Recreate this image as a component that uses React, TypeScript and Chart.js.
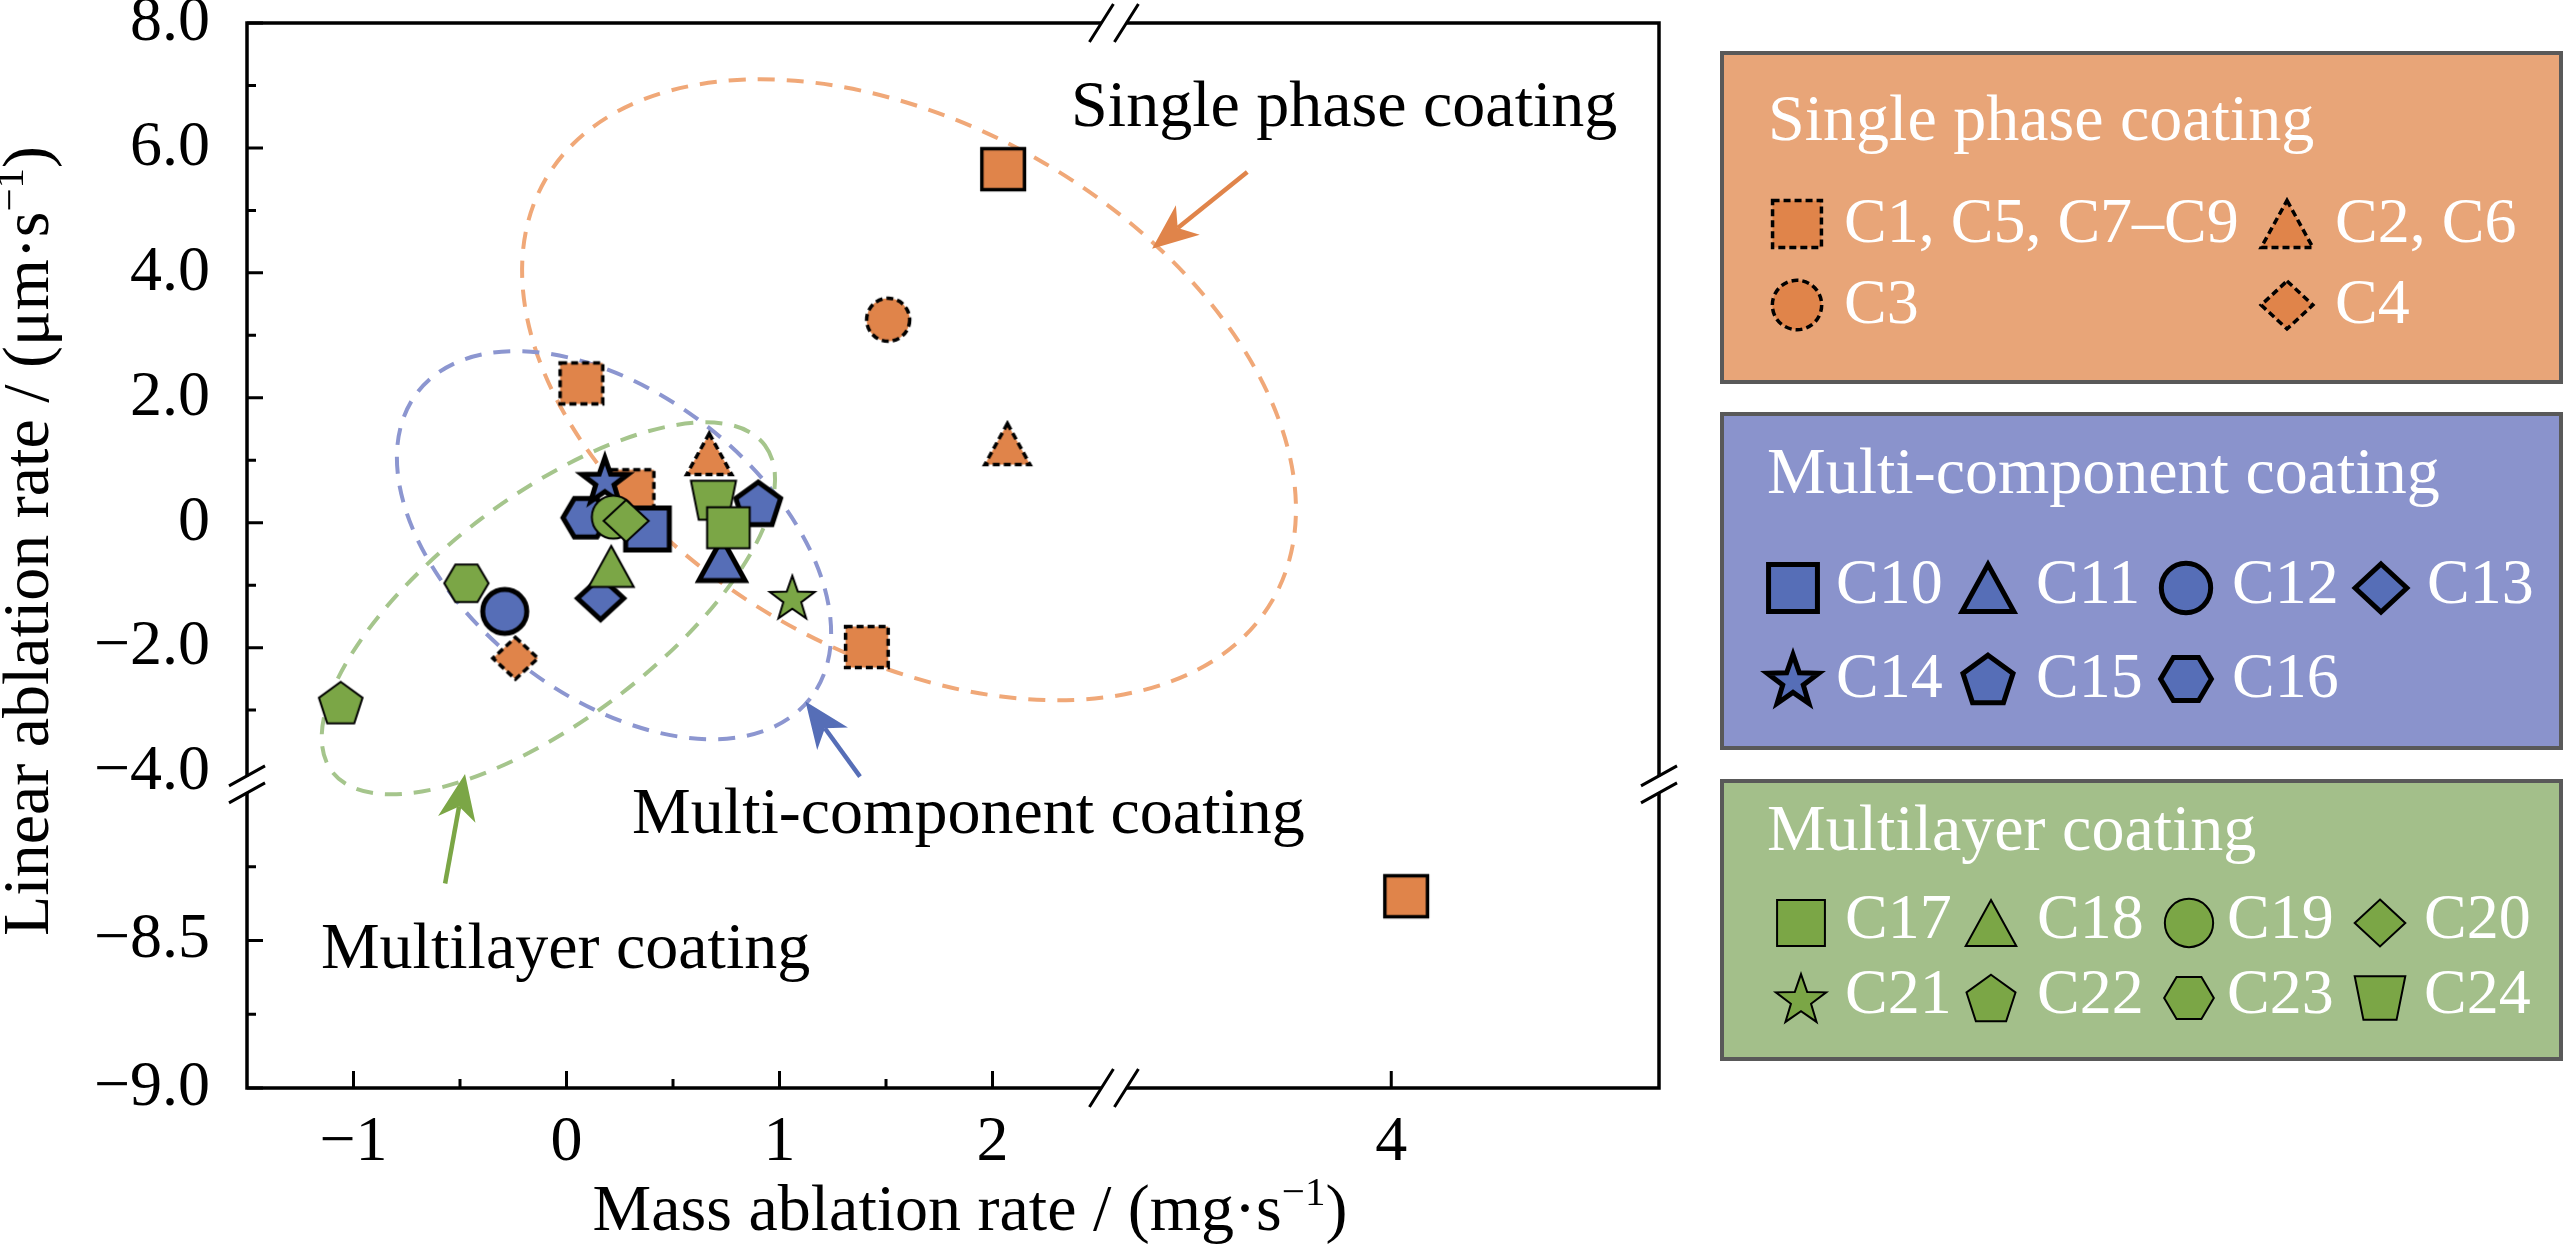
import React, { useEffect, useRef } from "react";
import { Chart, registerables } from "chart.js";

Chart.register(...registerables);

// ---------------- DATA ----------------
const xTickValues = [-1, 0, 1, 2, 4];
const xTickLabels = ["−1", "0", "1", "2", "4"];
const xMinorTickValues = [-0.5, 0.5, 1.5];
const yTickValues = [8, 6, 4, 2, 0, -2, -4, -8.5, -9];
const yTickLabels = ["8.0", "6.0", "4.0", "2.0", "0", "−2.0", "−4.0", "−8.5", "−9.0"];
const yMinorTickValues = [7, 5, 3, 1, -1, -3, -8.25, -8.75];

const singlePhaseNames = ["C1, C5, C7–C9", "C2, C6", "C3", "C4"];
const singleSquareX = [0.07, 0.31, 1.41, 2.05, 4.07];
const singleSquareY = [2.23, 0.52, -1.99, 5.66, -8.35];
const singleTriangleX = [0.67, 2.07];
const singleTriangleY = [1.1, 1.26];
const singleCircleX = [1.51];
const singleCircleY = [3.25];
const singleDiamondX = [-0.24];
const singleDiamondY = [-2.17];

const multiComponentNames = ["C10", "C11", "C12", "C13", "C14", "C15", "C16"];
const multiComponentX = [0.38, 0.73, -0.29, 0.16, 0.18, 0.9, 0.09];
const multiComponentY = [-0.1, -0.59, -1.42, -1.21, 0.69, 0.31, 0.08];

const multilayerNames = ["C17", "C18", "C19", "C20", "C21", "C22", "C23", "C24"];
const multilayerX = [0.76, 0.21, 0.22, 0.28, 1.06, -1.06, -0.47, 0.69];
const multilayerY = [-0.08, -0.7, 0.09, 0.03, -1.19, -2.88, -0.97, 0.36];

const xAxisTitle: [string, boolean][] = [["Mass ablation rate / (mg·s", false], ["−1", true], [")", false]];
const yAxisTitle: [string, boolean][] = [["Linear ablation rate / (μm·s", false], ["−1", true], [")", false]];

// ---------------- AXIS BREAK MAPPING ----------------
const xToAxis = (x: number) => (x > 2.6 ? x - 0.128 : x);
const yToAxis = (y: number) => (y < -6 ? -6.688 + (y + 8.5) * 4.72 : y);
const X_MIN = -1.5, X_MAX = 5.129, Y_MIN = -9.05, Y_MAX = 8;
const X_BREAK_AXIS = 2.57;
const Y_BREAK_AXIS = -4.19;
const Y_NO_TICK = -4;

// ---------------- STYLE ----------------
const FONT = '"Liberation Serif", "Times New Roman", Times, serif';
const ORANGE = "#E0844A", BLUE = "#566EB7", GREEN = "#7BA646";

type Shape = "square" | "circle" | "triangle" | "diamond" | "star" | "pentagon" | "hexagon" | "trapezoid";
const singleShapes: Shape[] = ["square", "triangle", "circle", "diamond"];
const multiShapes: Shape[] = ["square", "triangle", "circle", "diamond", "star", "pentagon", "hexagon"];
const layerShapes: Shape[] = ["square", "triangle", "circle", "diamond", "star", "pentagon", "hexagon", "trapezoid"];
const singleSquareSolidOutline = [false, false, false, true, true];

const groupStyle = {
  single: { fill: ORANGE, lw: 3.5, dashed: true, size: 41, legendSize: 47 },
  multi: { fill: BLUE, lw: 5, dashed: false, size: 42, legendSize: 47 },
  layer: { fill: GREEN, lw: 2, dashed: false, size: 41, legendSize: 46 },
};

const regionEllipses = [
  { cx: 1.608, cy: 2.128, rx: 420, ry: 264, rot: 30, color: "#F0A878" },
  { cx: 0.223, cy: -0.36, rx: 249, ry: 151, rot: 38, color: "#8C96D0" },
  { cx: -0.085, cy: -1.371, rx: 271, ry: 112, rot: -37, color: "#A5C58C" },
];
const regionArrows = [
  { from: [3.196, 5.616], to: [2.749, 4.384], color: ORANGE },
  { from: [1.378, -4.064], to: [1.122, -2.864], color: BLUE },
  { from: [-0.57, -5.776], to: [-0.4765, -4.024], color: GREEN },
];
const regionLabels = [
  { text: "Single phase coating", x: 2.369, y: 6.352 },
  { text: "Multi-component coating", x: 0.308, y: -4.96 },
  { text: "Multilayer coating", x: -1.153, y: -7.136 },
];

const legendPanels = [
  {
    title: "Single phase coating", bg: "#E8A578", x0: 1722, y0: 53, x1: 2561, y1: 382, titleX: 1768, titleY: 140,
    markerX: [1797, 2287], textX: [1844, 2335], rowY: [224, 305], baseY: [242, 323], cols: 2,
    group: "single", names: singlePhaseNames, shapes: singleShapes,
  },
  {
    title: "Multi-component coating", bg: "#8A93CC", x0: 1722, y0: 414, x1: 2561, y1: 748, titleX: 1767, titleY: 493,
    markerX: [1793, 1988, 2186, 2381], textX: [1836, 2036, 2232, 2427], rowY: [588, 679], baseY: [603, 697], cols: 4,
    group: "multi", names: multiComponentNames, shapes: multiShapes,
  },
  {
    title: "Multilayer coating", bg: "#A3BF8A", x0: 1722, y0: 781, x1: 2561, y1: 1059, titleX: 1767, titleY: 850,
    markerX: [1801, 1991, 2189, 2380], textX: [1845, 2037, 2227, 2424], rowY: [923, 998], baseY: [938, 1013], cols: 4,
    group: "layer", names: multilayerNames, shapes: layerShapes,
  },
];

// ---------------- MARKERS ----------------
function tracePath(ctx: CanvasRenderingContext2D, shape: Shape, s: number) {
  const h = s / 2;
  ctx.beginPath();
  if (shape === "square") {
    ctx.rect(-h * 1.04, -h, s * 1.04, s);
  } else if (shape === "circle") {
    ctx.arc(0, 0, h * 1.05, 0, Math.PI * 2);
  } else if (shape === "triangle") {
    ctx.moveTo(0, -h);
    ctx.lineTo(h * 1.1, h);
    ctx.lineTo(-h * 1.1, h);
    ctx.closePath();
  } else if (shape === "diamond") {
    ctx.moveTo(0, -h * 1.02);
    ctx.lineTo(h * 1.1, 0);
    ctx.lineTo(0, h * 1.02);
    ctx.lineTo(-h * 1.1, 0);
    ctx.closePath();
  } else if (shape === "star") {
    const R = h * 1.15, r = R * 0.4, off = (R - R * Math.cos(Math.PI / 5)) / 2;
    for (let i = 0; i < 10; i++) {
      const a = -Math.PI / 2 + (i * Math.PI) / 5;
      const rr = i % 2 === 0 ? R : r;
      const px = rr * Math.cos(a), py = rr * Math.sin(a) + off;
      if (i === 0) ctx.moveTo(px, py); else ctx.lineTo(px, py);
    }
    ctx.closePath();
  } else if (shape === "pentagon") {
    const R = h * 1.12, off = (R - R * Math.cos(Math.PI / 5)) / 2;
    for (let i = 0; i < 5; i++) {
      const a = -Math.PI / 2 + (i * 2 * Math.PI) / 5;
      const px = R * Math.cos(a), py = R * Math.sin(a) + off;
      if (i === 0) ctx.moveTo(px, py); else ctx.lineTo(px, py);
    }
    ctx.closePath();
  } else if (shape === "hexagon") {
    const R = h * 1.08;
    for (let i = 0; i < 6; i++) {
      const a = (i * Math.PI) / 3;
      const px = R * Math.cos(a), py = R * Math.sin(a) * 0.98;
      if (i === 0) ctx.moveTo(px, py); else ctx.lineTo(px, py);
    }
    ctx.closePath();
  } else if (shape === "trapezoid") {
    ctx.moveTo(-h * 1.1, -h * 0.95);
    ctx.lineTo(h * 1.1, -h * 0.95);
    ctx.lineTo(h * 0.72, h * 0.95);
    ctx.lineTo(-h * 0.72, h * 0.95);
    ctx.closePath();
  }
}

function makeMarker(shape: Shape, size: number, fill: string, lw: number, dashed: boolean) {
  let dim = Math.ceil(size * 1.6 + lw * 4);
  if (dim % 2) dim += 1;
  const c = document.createElement("canvas");
  c.width = dim;
  c.height = dim;
  const ctx = c.getContext("2d") as CanvasRenderingContext2D;
  ctx.translate(dim / 2, dim / 2);
  tracePath(ctx, shape, size);
  ctx.fillStyle = fill;
  ctx.fill();
  ctx.lineWidth = lw;
  ctx.strokeStyle = "#000";
  ctx.lineJoin = "miter";
  ctx.miterLimit = 6;
  if (dashed) ctx.setLineDash([7, 4]);
  ctx.stroke();
  return c;
}

function drawRich(ctx: CanvasRenderingContext2D, segs: [string, boolean][], cx: number, baseY: number, size: number) {
  const big = `${size}px ${FONT}`;
  const small = `${Math.round(size * 0.62)}px ${FONT}`;
  let total = 0;
  for (const [t, sup] of segs) {
    ctx.font = sup ? small : big;
    total += ctx.measureText(t).width;
  }
  let x = cx - total / 2;
  ctx.textAlign = "left";
  ctx.textBaseline = "alphabetic";
  for (const [t, sup] of segs) {
    ctx.font = sup ? small : big;
    ctx.fillText(t, x, sup ? baseY - size * 0.38 : baseY);
    x += ctx.measureText(t).width;
  }
}

function drawArrow(ctx: CanvasRenderingContext2D, x0: number, y0: number, x1: number, y1: number, color: string) {
  const dx = x1 - x0, dy = y1 - y0, L = Math.hypot(dx, dy);
  const ux = dx / L, uy = dy / L, px = -uy, py = ux;
  const head = 46, half = 19, notch = 33;
  ctx.save();
  ctx.strokeStyle = color;
  ctx.fillStyle = color;
  ctx.lineWidth = 4.5;
  ctx.setLineDash([]);
  ctx.beginPath();
  ctx.moveTo(x0, y0);
  ctx.lineTo(x1 - ux * notch, y1 - uy * notch);
  ctx.stroke();
  ctx.beginPath();
  ctx.moveTo(x1, y1);
  ctx.lineTo(x1 - ux * head + px * half, y1 - uy * head + py * half);
  ctx.lineTo(x1 - ux * notch, y1 - uy * notch);
  ctx.lineTo(x1 - ux * head - px * half, y1 - uy * head - py * half);
  ctx.closePath();
  ctx.fill();
  ctx.restore();
}

export default function App() {
  const ref = useRef<HTMLCanvasElement | null>(null);

  useEffect(() => {
    const canvas = ref.current;
    if (!canvas) return;

    type GroupKey = "single" | "multi" | "layer";
    const mk = (shape: Shape, g: GroupKey, legend = false, forceSolid = false) => {
      const st = groupStyle[g];
      return makeMarker(shape, legend ? st.legendSize : st.size, st.fill, st.lw, forceSolid ? false : st.dashed);
    };
    const pts = (xs: number[], ys: number[]) => xs.map((x, i) => ({ x: xToAxis(x), y: yToAxis(ys[i]) }));

    const datasets: any[] = [];
    const sqDashed = mk("square", "single");
    const sqSolid = mk("square", "single", false, true);
    datasets.push({
      label: singlePhaseNames[0], data: pts(singleSquareX, singleSquareY),
      pointStyle: singleSquareSolidOutline.map((s) => (s ? sqSolid : sqDashed)), pointRadius: 20, order: 100,
    });
    datasets.push({ label: singlePhaseNames[1], data: pts(singleTriangleX, singleTriangleY), pointStyle: mk("triangle", "single"), pointRadius: 20, order: 101 });
    datasets.push({ label: singlePhaseNames[2], data: pts(singleCircleX, singleCircleY), pointStyle: mk("circle", "single"), pointRadius: 20, order: 102 });
    datasets.push({ label: singlePhaseNames[3], data: pts(singleDiamondX, singleDiamondY), pointStyle: mk("diamond", "single"), pointRadius: 20, order: 103 });
    multiComponentNames.forEach((name, i) => {
      datasets.push({
        label: name, data: pts([multiComponentX[i]], [multiComponentY[i]]),
        pointStyle: mk(multiShapes[i], "multi"), pointRadius: 20, order: 50 + i,
      });
    });
    const layerOrder = [0, 1, 3.5, 2.5, 4, 5, 6, 7];
    multilayerNames.forEach((name, i) => {
      datasets.push({
        label: name, data: pts([multilayerX[i]], [multilayerY[i]]),
        pointStyle: mk(layerShapes[i], "layer"), pointRadius: 20, order: layerOrder[i],
      });
    });

    const legendMarkers: Record<string, HTMLCanvasElement[]> = {};
    legendPanels.forEach((p) => {
      legendMarkers[p.group] = p.shapes.map((s) => mk(s, p.group as GroupKey, true));
    });

    const decor = {
      id: "decor",
      beforeDatasetsDraw(chart: any) {
        const ctx: CanvasRenderingContext2D = chart.ctx;
        const xs = chart.scales.x, ys = chart.scales.y;
        ctx.save();
        ctx.lineWidth = 4;
        ctx.setLineDash([17, 12]);
        for (const e of regionEllipses) {
          ctx.strokeStyle = e.color;
          ctx.beginPath();
          ctx.ellipse(xs.getPixelForValue(e.cx), ys.getPixelForValue(e.cy), e.rx, e.ry, (e.rot * Math.PI) / 180, 0, Math.PI * 2);
          ctx.stroke();
        }
        ctx.restore();
      },
      afterDatasetsDraw(chart: any) {
        const ctx: CanvasRenderingContext2D = chart.ctx;
        const xs = chart.scales.x, ys = chart.scales.y;
        for (const a of regionArrows) {
          drawArrow(ctx, xs.getPixelForValue(a.from[0]), ys.getPixelForValue(a.from[1]),
            xs.getPixelForValue(a.to[0]), ys.getPixelForValue(a.to[1]), a.color);
        }
        ctx.save();
        ctx.fillStyle = "#000";
        ctx.font = `66px ${FONT}`;
        ctx.textAlign = "left";
        ctx.textBaseline = "alphabetic";
        for (const l of regionLabels) {
          ctx.fillText(l.text, xs.getPixelForValue(l.x), ys.getPixelForValue(l.y));
        }
        ctx.restore();
      },
      afterDraw(chart: any) {
        const ctx: CanvasRenderingContext2D = chart.ctx;
        const xs = chart.scales.x, ys = chart.scales.y;
        const { left, right, top, bottom } = chart.chartArea;
        ctx.save();
        ctx.setLineDash([]);
        ctx.strokeStyle = "#000";
        ctx.lineWidth = 3.5;
        ctx.strokeRect(left, top, right - left, bottom - top);
        ctx.lineWidth = 3;
        ctx.beginPath();
        for (const v of xTickValues) {
          const p = xs.getPixelForValue(xToAxis(v));
          ctx.moveTo(p, bottom); ctx.lineTo(p, bottom - 17);
        }
        for (const v of xMinorTickValues) {
          const p = xs.getPixelForValue(xToAxis(v));
          ctx.moveTo(p, bottom); ctx.lineTo(p, bottom - 9);
        }
        for (const v of yTickValues) {
          if (v === Y_NO_TICK) continue;
          const p = ys.getPixelForValue(yToAxis(v));
          ctx.moveTo(left, p); ctx.lineTo(left + 16, p);
        }
        for (const v of yMinorTickValues) {
          const p = ys.getPixelForValue(yToAxis(v));
          ctx.moveTo(left, p); ctx.lineTo(left + 9, p);
        }
        ctx.stroke();
        const bx = xs.getPixelForValue(X_BREAK_AXIS);
        for (const yy of [top, bottom]) {
          ctx.fillStyle = "#fff";
          ctx.fillRect(bx - 12, yy - 4, 24, 8);
          ctx.beginPath();
          for (const off of [-12.5, 12.5]) {
            ctx.moveTo(bx + off - 12, yy + 19);
            ctx.lineTo(bx + off + 12, yy - 19);
          }
          ctx.stroke();
        }
        const by = ys.getPixelForValue(Y_BREAK_AXIS);
        for (const xx of [left, right]) {
          ctx.fillStyle = "#fff";
          ctx.fillRect(xx - 4, by - 8, 8, 16);
          ctx.beginPath();
          for (const off of [-8.5, 8.5]) {
            ctx.moveTo(xx - 18, by + off + 10);
            ctx.lineTo(xx + 18, by + off - 10);
          }
          ctx.stroke();
        }
        ctx.fillStyle = "#000";
        drawRich(ctx, xAxisTitle, (left + right) / 2 + 17, 1230, 66);
        ctx.save();
        ctx.translate(48, 541);
        ctx.rotate(-Math.PI / 2);
        drawRich(ctx, yAxisTitle, 0, 0, 66);
        ctx.restore();
        for (const p of legendPanels) {
          ctx.fillStyle = p.bg;
          ctx.fillRect(p.x0, p.y0, p.x1 - p.x0, p.y1 - p.y0);
          ctx.strokeStyle = "#595959";
          ctx.lineWidth = 4;
          ctx.strokeRect(p.x0, p.y0, p.x1 - p.x0, p.y1 - p.y0);
          ctx.fillStyle = "#fff";
          ctx.textAlign = "left";
          ctx.textBaseline = "alphabetic";
          ctx.font = `66px ${FONT}`;
          ctx.fillText(p.title, p.titleX, p.titleY);
          ctx.font = `64px ${FONT}`;
          const markers = legendMarkers[p.group];
          p.names.forEach((name, i) => {
            const col = i % p.cols, row = Math.floor(i / p.cols);
            const m = markers[i];
            ctx.drawImage(m, p.markerX[col] - m.width / 2, p.rowY[row] - m.height / 2);
            ctx.fillStyle = "#fff";
            ctx.fillText(name, p.textX[col], p.baseY[row]);
          });
        }
        ctx.restore();
      },
    };

    const chart = new Chart(canvas, {
      type: "scatter",
      data: { datasets },
      options: {
        responsive: false,
        devicePixelRatio: 1,
        animation: false,
        events: [],
        layout: { padding: { left: 0, top: 23, right: 907, bottom: 0 } },
        plugins: { legend: { display: false }, tooltip: { enabled: false }, title: { display: false } },
        scales: {
          x: {
            type: "linear", min: X_MIN, max: X_MAX,
            grid: { display: false, drawTicks: false },
            border: { display: false },
            afterBuildTicks: (s: any) => { s.ticks = xTickValues.map((v) => ({ value: xToAxis(v) })); },
            afterFit: (s: any) => { s.height = 163; s.paddingLeft = 0; s.paddingRight = 0; },
            ticks: {
              padding: 17, color: "#000", font: { family: FONT, size: 64 },
              maxRotation: 0, minRotation: 0, autoSkip: false,
              callback: (_v: any, i: number) => xTickLabels[i],
            },
          },
          y: {
            type: "linear", min: Y_MIN, max: Y_MAX,
            grid: { display: false, drawTicks: false },
            border: { display: false },
            afterBuildTicks: (s: any) => { s.ticks = yTickValues.map((v) => ({ value: yToAxis(v) })); },
            afterFit: (s: any) => { s.width = 247; s.paddingTop = 0; s.paddingBottom = 0; },
            ticks: {
              padding: 37, color: "#000", font: { family: FONT, size: 64 }, autoSkip: false,
              callback: (_v: any, i: number) => yTickLabels[i],
            },
          },
        },
      } as any,
      plugins: [decor as any],
    });
    return () => chart.destroy();
  }, []);

  return (
    <div style={{ position: "absolute", left: 0, top: 0, width: 2566, height: 1251, background: "#fff" }}>
      <canvas ref={ref} width={2566} height={1251} style={{ display: "block" }} />
    </div>
  );
}
